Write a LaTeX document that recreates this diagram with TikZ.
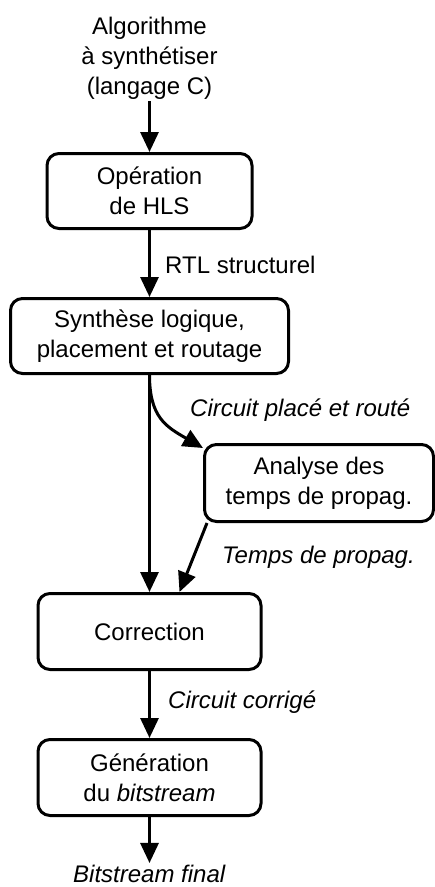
\documentclass[tikz,border=0pt]{standalone}
\usepackage{fontspec}
\setmainfont{Liberation Sans}
\usepackage{tikz}
\usetikzlibrary{arrows.meta}
\newcommand{\DiagFont}{\fontsize{24}{30}\selectfont}
\tikzstyle{Box}=[draw,rounded corners=12pt,line width=3pt,align=center,
inner sep=2pt,font=\DiagFont]
\tikzstyle{Edge}=[draw,line width=3pt,-{Triangle[length=20pt,width=18pt]}]
\tikzstyle{Txt}=[align=center,inner sep=2pt,font=\DiagFont]
\tikzstyle{Lbl}=[anchor=west,inner sep=0pt,font=\DiagFont\itshape]

\begin{document}
\begin{tikzpicture}[x=1pt,y=1pt]
        \useasboundingbox (0,0) rectangle (435,-887);
        \node[Txt](algo)at(149.5,-58){Algorithme\\à synthétiser\\(langage C)};
        \node[Box,minimum width=205,minimum height=75](hls)at(149.5,-191)
            {Opération\\de HLS};
        \node[Box,minimum width=278,minimum height=75](synth)at(149.5,-336)
            {Synthèse logique,\\placement et routage};
        \node[Box,minimum width=229,minimum height=77](sta)at(319,-483)
            {Analyse des\\temps de propag.};
        \node[Box,minimum width=223,minimum height=76](corr)at(149.5,-631.5)
            {Correction};
        \node[Box,minimum width=223,minimum height=76](gen)at(149.5,-777.5)
            {Génération\\du \textit{bitstream}};
        \node[Txt](final)at(149.5,-874){\textit{Bitstream final}};
        \node[Lbl,font=\DiagFont\upshape](l1)at(165,-265){RTL structurel};
        \node[Lbl](l2)at(190,-410){Circuit placé et routé};
        \node[Lbl](l3)at(222,-557){Temps de propag.};
        \node[Lbl](l4)at(168,-702){Circuit corrigé};
        \draw[Edge](algo.south)--(hls.north);
        \draw[Edge](hls.south)--(synth.north);
        \draw[Edge](synth.south)--(corr.north);
        \draw[Edge](synth.south)to[out=-90,in=150,looseness=1.2]
            ([yshift=-5pt]sta.north west);
        \draw[Edge]([xshift=4pt]sta.south west)--([xshift=30pt]corr.north);
        \draw[Edge](corr.south)--(gen.north);
        \draw[Edge](gen.south)--(final.north);
    \end{tikzpicture}
\end{document}
